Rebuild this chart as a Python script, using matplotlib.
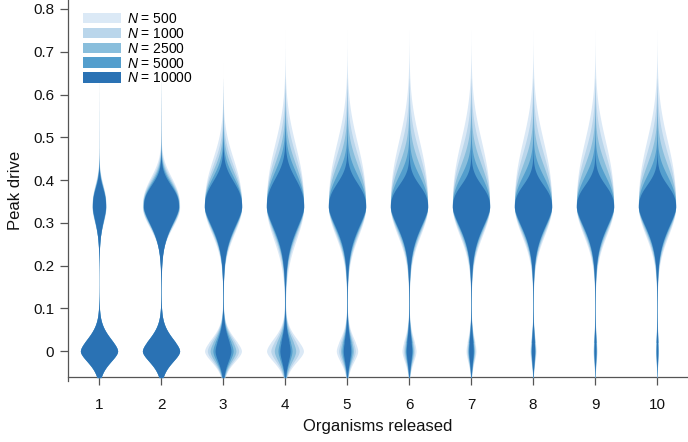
import numpy as np
import matplotlib
matplotlib.use("Agg")
import matplotlib.pyplot as plt
from matplotlib.patches import Patch

plt.rcParams['font.family'] = ['Liberation Sans', 'DejaVu Sans']
plt.rcParams['mathtext.fontset'] = 'custom'
plt.rcParams['mathtext.rm'] = 'Liberation Sans'
plt.rcParams['mathtext.it'] = 'Liberation Sans:italic'

# ---------------- data ----------------
releases = [1, 2, 3, 4, 5, 6, 7, 8, 9, 10]
n_values = [500, 1000, 2500, 5000, 10000]
colors = ['#dbe9f6', '#bad6eb', '#89bedc', '#539ecd', '#2a72b4']

# centre of the "drive established" mode and of the "drive lost" mode
upper_mode_center = 0.337
lower_mode_center = 0.0

# peak density of the zero mode relative to the upper mode (rows: releases, cols: N)
zero_mode_ratio = [
    [2.70, 2.75, 2.80, 2.85, 2.86],
    [1.00, 1.02, 1.04, 1.06, 1.07],
    [1.00, 0.85, 0.70, 0.55, 0.43],
    [1.00, 0.77, 0.58, 0.38, 0.28],
    [0.58, 0.45, 0.35, 0.27, 0.20],
    [0.38, 0.30, 0.24, 0.19, 0.15],
    [0.27, 0.22, 0.18, 0.15, 0.12],
    [0.17, 0.14, 0.12, 0.10, 0.09],
    [0.11, 0.09, 0.075, 0.06, 0.05],
    [0.08, 0.07, 0.06, 0.05, 0.04],
]
# spread of the upper mode above its peak
upper_spread_above = [
    [0.050, 0.048, 0.046, 0.044, 0.042],
    [0.065, 0.060, 0.056, 0.052, 0.048],
    [0.105, 0.090, 0.078, 0.066, 0.056],
    [0.137, 0.115, 0.095, 0.078, 0.062],
    [0.140, 0.115, 0.093, 0.070, 0.052],
    [0.145, 0.118, 0.092, 0.068, 0.048],
    [0.145, 0.118, 0.092, 0.068, 0.048],
    [0.145, 0.118, 0.092, 0.068, 0.048],
    [0.145, 0.118, 0.092, 0.068, 0.048],
    [0.145, 0.118, 0.092, 0.068, 0.048],
]
# spread of the upper mode below its peak
upper_spread_below = [
    [0.038, 0.037, 0.036, 0.035, 0.034],
    [0.048, 0.046, 0.044, 0.043, 0.042],
    [0.062, 0.057, 0.053, 0.050, 0.047],
    [0.076, 0.067, 0.060, 0.055, 0.051],
    [0.068, 0.062, 0.057, 0.052, 0.048],
    [0.067, 0.061, 0.056, 0.051, 0.048],
    [0.067, 0.061, 0.056, 0.051, 0.048],
    [0.067, 0.061, 0.056, 0.051, 0.048],
    [0.067, 0.061, 0.056, 0.051, 0.048],
    [0.067, 0.061, 0.056, 0.051, 0.048],
]
lower_side_power = [1.95, 1.85, 1.75, 1.68, 1.6]
upper_side_power = 2.5
zero_spread_above = 0.030
zero_spread_below = 0.026
zero_power = 1.7
bridge_level = 0.008
tail_top = 0.64

ytick_values = [0, 0.1, 0.2, 0.3, 0.4, 0.5, 0.6, 0.7, 0.8]
ytick_labels = ['0', '0.1', '0.2', '0.3', '0.4', '0.5', '0.6', '0.7', '0.8']

# ---------------- figure ----------------
fig = plt.figure(figsize=(6.88, 4.42), dpi=100)
ax = fig.add_axes([68 / 688, 61 / 442, 620 / 688, 381 / 442])

y = np.linspace(-0.062, 0.75, 1400)
half_width = 0.3

for j, (n, col) in enumerate(zip(n_values, colors)):
    for i, rel in enumerate(releases):
        su = upper_spread_above[i][j]
        sl = upper_spread_below[i][j]
        d = y - upper_mode_center
        upper = np.where(d >= 0,
                         np.exp(-0.5 * (np.abs(d) / su) ** upper_side_power),
                         np.exp(-0.5 * (np.abs(d) / sl) ** lower_side_power[j]))
        d0 = y - lower_mode_center
        lower = np.where(d0 >= 0,
                         np.exp(-0.5 * (np.abs(d0) / zero_spread_above) ** zero_power),
                         np.exp(-0.5 * (np.abs(d0) / zero_spread_below) ** zero_power))
        bridge = np.where((y > 0.02) & (y <= upper_mode_center), bridge_level, 0.0)
        bridge += np.where(y > upper_mode_center,
                           bridge_level * np.clip(1 - (y - upper_mode_center) / (tail_top - upper_mode_center), 0, 1), 0.0)
        dens = zero_mode_ratio[i][j] * lower + upper + bridge
        w = dens / dens.max() * half_width
        ax.fill_betweenx(y, rel - w, rel + w, color=col, lw=0, zorder=2 + j)

ax.set_xlim(0.5, 10.5)
ax.set_ylim(-0.07, 0.821)
ax.set_xticks(releases)
ax.set_xticklabels([str(r) for r in releases])
ax.set_yticks(ytick_values)
ax.set_yticklabels(ytick_labels)

for s in ['top', 'right']:
    ax.spines[s].set_visible(False)
ax.spines['bottom'].set_position(('data', -0.06))
for s in ['left', 'bottom']:
    ax.spines[s].set_color('#555555')
    ax.spines[s].set_linewidth(0.9)
ax.tick_params(axis='x', length=6, width=0.9, color='#555555', pad=9, labelsize=11, labelcolor='#111111')
ax.tick_params(axis='y', length=6, width=0.9, color='#555555', pad=4, labelsize=11, labelcolor='#111111')

ax.set_xlabel('Organisms released', fontsize=12, labelpad=5, color='#111111')
ax.set_ylabel('Peak drive', fontsize=12, labelpad=7, color='#111111')

handles = [Patch(facecolor=c, edgecolor='none') for c in colors]
labels = [f'$N$ = {n}' for n in n_values]
ax.legend(handles, labels, loc='upper left', bbox_to_anchor=(83 / 688, 1 - 12 / 442),
          bbox_transform=fig.transFigure, frameon=False, fontsize=10,
          handlelength=2.7, handleheight=0.8, labelspacing=0.06,
          handletextpad=0.45, borderpad=0, borderaxespad=0)

fig.savefig('out.png', dpi=100)
